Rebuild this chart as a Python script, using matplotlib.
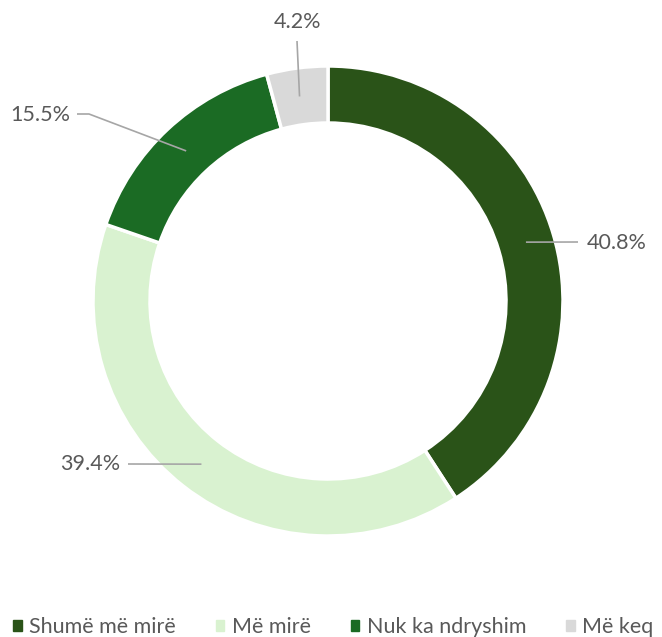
import matplotlib
matplotlib.use("Agg")
import matplotlib.pyplot as plt
import numpy as np

plt.rcParams['font.family'] = ['Lato', 'DejaVu Sans']

categories = ['Shumë më mirë', 'Më mirë', 'Nuk ka ndryshim', 'Më keq']
values = [40.8, 39.4, 15.5, 4.2]
labels = ['40.8%', '39.4%', '15.5%', '4.2%']
colors = ['#2a5318', '#d9f2d0', '#1b6b24', '#d9d9d9']

W, H = 662, 637
fig = plt.figure(figsize=(W / 100, H / 100), dpi=100)
ax = fig.add_axes([0, 0, 1, 1])

cx, cy = 328, H - 301
R = 235
ring = 57

wedges, _ = ax.pie(values, colors=colors, startangle=90, counterclock=False,
                   radius=R, center=(cx, cy),
                   wedgeprops=dict(width=ring, edgecolor='white', linewidth=2.5))
ax.set_xlim(0, W)
ax.set_ylim(0, H)
ax.set_aspect('equal')
ax.axis('off')

# label layout: (line points after anchor in image px, text pos, ha)
layout = [
    ([(578, 242)], (587, 243), 'left'),
    ([(128, 464)], (120, 464), 'right'),
    ([(89, 114), (77, 114)], (70, 115), 'right'),
    ([(297, 41)], (298, 22), 'center'),
]

cum = 0
for v, lab, (pts, tpos, ha) in zip(values, labels, layout):
    mid = np.deg2rad(90 - 360 * (cum + v / 2) / 100)
    cum += v
    r = R - ring / 2
    xs = [cx + r * np.cos(mid)] + [p[0] for p in pts]
    ys = [cy + r * np.sin(mid)] + [H - p[1] for p in pts]
    ax.plot(xs, ys, color='#a6a6a6', lw=1.2, solid_capstyle='butt')
    ax.text(tpos[0], H - tpos[1], lab, ha=ha, va='center', fontsize=15.5, color='#595959')

handles = [plt.Rectangle((0, 0), 1, 1, color=c) for c in colors]
fig.legend(handles, categories, loc='center left', bbox_to_anchor=(13 / W, 10 / H),
           ncol=4, frameon=False, fontsize=15.5, labelcolor='#595959',
           borderpad=0, borderaxespad=0,
           handlelength=0.4, handleheight=0.4, handletextpad=0.35, columnspacing=1.85)

fig.savefig('out.png', dpi=100)
